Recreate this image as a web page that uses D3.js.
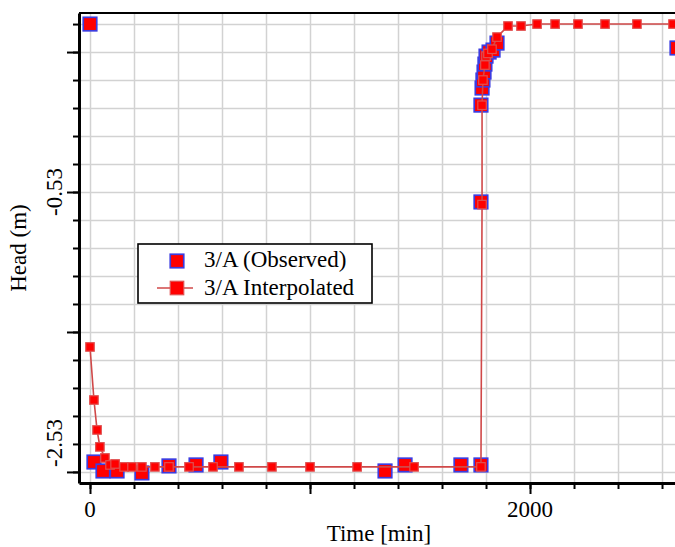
<!DOCTYPE html>
<html>
<head>
<meta charset="utf-8">
<script src="https://cdn.jsdelivr.net/npm/d3@7"></script>
<style>
  body { margin: 0; background: #fff; }
  svg { display: block; }
  text { font-family: "Liberation Serif", "Times New Roman", serif; }
</style>
</head>
<body>
<svg id="chart" width="675" height="547"></svg>
<script>
// observed heads (time in min, head in m)
var obs_time = [0, 18, 59, 123, 236, 359, 482, 595, 1341, 1432, 1686, 1777,
                1777, 1777, 1782, 1786, 1791, 1795, 1800, 1814, 1832, 1850, 2668];
var obs_head = [0.67, -2.459, -2.523, -2.523, -2.537, -2.487, -2.48, -2.459, -2.523, -2.48, -2.48, -2.48,
                -0.601, 0.091, 0.213, 0.27, 0.327, 0.384, 0.441, 0.47, 0.484, 0.534, 0.499];

// interpolated heads
var int_time = [0, 18, 32, 45, 68, 91, 114, 155, 191, 236, 295, 359, 450, 559, 677, 827, 1000, 1214, 1473,
                1777, 1782, 1782, 1786, 1795, 1800, 1809, 1827, 1850, 1900, 1959, 2032, 2114, 2218,
                2341, 2486, 2650, 2841];
var int_head = [-1.637, -2.016, -2.23, -2.351, -2.43, -2.48, -2.473, -2.494, -2.494, -2.494, -2.494, -2.494,
                -2.494, -2.494, -2.494, -2.494, -2.494, -2.494, -2.494,
                -2.494, -0.62, 0.09, 0.27, 0.377, 0.441, 0.46, 0.49, 0.577, 0.656, 0.656, 0.67, 0.67, 0.67,
                0.67, 0.67, 0.67, 0.67];

// tick labels
var x_labels = [0, 2000];
var y_labels = [-2.53, -0.53];
var series_names = ["3/A (Observed)", "3/A Interpolated"];

chart();

function chart() {
    var svg = d3.select("#chart"),
        margin = {top: 13, left: 79, bottom: 64, right: 0},
        width = +svg.attr("width"),
        height = +svg.attr("height");

    var x = d3.scaleLinear()
        .domain([-50, 2659])
        .range([margin.left, width - margin.right]);

    var y = d3.scaleLinear()
        .domain([-2.609, 0.749])
        .range([height - margin.bottom, margin.top]);

    // minor / major tick positions
    var x_minor = d3.range(0, 2801, 200),
        x_major = d3.range(0, 2801, 1000),
        y_minor = d3.range(0, 17).map(k => -2.53 + k * 0.2),
        y_major = d3.range(0, 4).map(k => -2.53 + k);

    var plot_h = y.range()[0] - y.range()[1];
    var plot_w = x.range()[1] - x.range()[0];

    // grid
    svg.append("g")
        .attr("class", "grid")
        .attr("transform", `translate(0,${margin.top})`)
        .call(d3.axisBottom(x).tickValues(x_minor).tickSize(plot_h).tickFormat(""))
        .call(g => g.select(".domain").remove());
    svg.append("g")
        .attr("class", "grid")
        .attr("transform", `translate(${margin.left},0)`)
        .call(d3.axisRight(y).tickValues(y_minor).tickSize(plot_w).tickFormat(""))
        .call(g => g.select(".domain").remove());
    svg.selectAll(".grid line").attr("stroke", "#d2d2d2").attr("stroke-width", 1.5);

    // data
    var observed = obs_time.map((t, i) => ({t: t, h: obs_head[i]}));
    var interpolated = int_time.map((t, i) => ({t: t, h: int_head[i]}));

    var big = 13.5, small = 8.5;

    svg.append("g").selectAll("rect")
        .data(observed)
        .enter().append("rect")
        .attr("x", d => x(d.t) - big / 2)
        .attr("y", d => y(d.h) - big / 2)
        .attr("width", big).attr("height", big)
        .attr("fill", "#ff0000")
        .attr("stroke", "#3c3ce0")
        .attr("stroke-width", 1.7);

    svg.append("path")
        .datum(interpolated)
        .attr("fill", "none")
        .attr("stroke", "#d04848")
        .attr("stroke-width", 1.6)
        .attr("d", d3.line().x(d => x(d.t)).y(d => y(d.h)));

    svg.append("g").selectAll("rect")
        .data(interpolated)
        .enter().append("rect")
        .attr("x", d => x(d.t) - small / 2)
        .attr("y", d => y(d.h) - small / 2)
        .attr("width", small).attr("height", small)
        .attr("fill", "#ff0000")
        .attr("stroke", "#e05050")
        .attr("stroke-width", 1.2);

    // axes
    svg.append("g")
        .attr("transform", `translate(0,${height - margin.bottom})`)
        .call(d3.axisBottom(x).tickValues(x_minor).tickSize(6).tickFormat("").tickSizeOuter(0));
    svg.append("g")
        .attr("transform", `translate(0,${height - margin.bottom})`)
        .call(d3.axisBottom(x).tickValues(x_major).tickSize(11).tickFormat("").tickSizeOuter(0))
        .call(g => g.select(".domain").remove());
    svg.append("g")
        .attr("transform", `translate(${margin.left},0)`)
        .call(d3.axisLeft(y).tickValues(y_minor).tickSize(6).tickFormat("").tickSizeOuter(0));
    svg.append("g")
        .attr("transform", `translate(${margin.left},0)`)
        .call(d3.axisLeft(y).tickValues(y_major).tickSize(12).tickFormat("").tickSizeOuter(0))
        .call(g => g.select(".domain").remove());
    svg.selectAll(".tick line").filter(function() { return this.parentNode.parentNode.getAttribute("class") != "grid"; })
        .attr("stroke", "#000").attr("stroke-width", 2);
    svg.selectAll(".domain").attr("stroke", "#000").attr("stroke-width", 3);

    // top border
    svg.append("line")
        .attr("x1", margin.left).attr("x2", width)
        .attr("y1", margin.top).attr("y2", margin.top)
        .attr("stroke", "#000").attr("stroke-width", 2);

    // tick labels
    svg.append("g").selectAll("text")
        .data(x_labels)
        .enter().append("text")
        .attr("x", d => x(d))
        .attr("y", height - margin.bottom + 34)
        .attr("text-anchor", "middle")
        .attr("font-size", 23)
        .text(d => d);

    svg.append("g").selectAll("text")
        .data(y_labels)
        .enter().append("text")
        .attr("transform", (d, i) => `translate(62,${i == 0 ? y(d) - 5 : y(d)}) rotate(-90)`)
        .attr("text-anchor", (d, i) => i == 0 ? "start" : "middle")
        .attr("font-size", 23)
        .text(d => d.toFixed(2));

    // axis titles
    svg.append("text")
        .attr("x", 379).attr("y", 541)
        .attr("text-anchor", "middle")
        .attr("font-size", 23)
        .text("Time [min]");
    svg.append("text")
        .attr("transform", "translate(26,248) rotate(-90)")
        .attr("text-anchor", "middle")
        .attr("font-size", 23)
        .text("Head (m)");

    // legend
    var legend = svg.append("g").attr("transform", "translate(138,244)");
    legend.append("rect")
        .attr("width", 234).attr("height", 59)
        .attr("fill", "#fff").attr("stroke", "#000").attr("stroke-width", 1.6);
    legend.append("rect")
        .attr("x", 39 - big / 2).attr("y", 17 - big / 2)
        .attr("width", big).attr("height", big)
        .attr("fill", "#ff0000").attr("stroke", "#3c3ce0").attr("stroke-width", 1.7);
    legend.append("line")
        .attr("x1", 19).attr("x2", 55).attr("y1", 44).attr("y2", 44)
        .attr("stroke", "#d04848").attr("stroke-width", 1.6);
    legend.append("rect")
        .attr("x", 39 - big / 2).attr("y", 44 - big / 2)
        .attr("width", big).attr("height", big)
        .attr("fill", "#ff0000").attr("stroke", "#e05050").attr("stroke-width", 1.2);
    legend.selectAll("text.lab")
        .data(series_names)
        .enter().append("text")
        .attr("class", "lab")
        .attr("x", 66)
        .attr("y", (d, i) => 23 + i * 28)
        .attr("font-size", 23)
        .text(d => d);
}
</script>
</body>
</html>
